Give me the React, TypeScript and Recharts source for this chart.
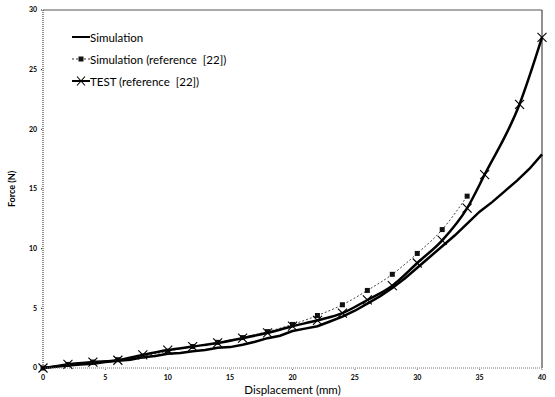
import React from 'react'
import { LineChart, Line, XAxis, YAxis, ReferenceLine } from 'recharts'

// Simulation (this work) – 1 mm steps, slightly noisy curve
const simDisp = [0, 1, 2, 3, 4, 5, 6, 7, 8, 9, 10, 11, 12, 13, 14, 15, 16, 17, 18, 19, 20, 21, 22, 23, 24, 25, 26, 27, 28, 29, 30, 31, 32, 33, 34, 35, 36, 37, 38, 39, 40]
const simForce = [0, 0.1, 0.2, 0.3, 0.35, 0.5, 0.6, 0.7, 0.9, 1.0, 1.2, 1.25, 1.4, 1.5, 1.7, 1.75, 1.95, 2.2, 2.5, 2.7, 3.1, 3.3, 3.5, 3.9, 4.3, 4.8, 5.4, 6.0, 6.7, 7.5, 8.4, 9.3, 10.2, 11.1, 12.1, 13.1, 13.9, 14.8, 15.7, 16.7, 17.9]

// Simulation (reference [22])
const refDisp = [0, 2, 4, 6, 8, 10, 12, 14, 16, 18, 20, 22, 24, 26, 28, 30, 32, 34]
const refForce = [0, 0.3, 0.5, 0.7, 1.0, 1.4, 1.8, 2.15, 2.55, 3.05, 3.65, 4.4, 5.3, 6.5, 7.85, 9.6, 11.6, 14.4]

// TEST (reference [22])
const testDisp = [0, 2, 4, 6, 8, 10, 12, 14, 16, 18, 20, 22, 24, 26, 28, 30, 32, 34, 35.4, 38.2, 40]
const testForce = [0, 0.3, 0.5, 0.65, 1.1, 1.5, 1.8, 2.1, 2.5, 2.95, 3.5, 4.0, 4.6, 5.7, 6.9, 8.8, 10.7, 13.4, 16.2, 22.1, 27.7]

const xTicks = [0, 5, 10, 15, 20, 25, 30, 35, 40]
const yTicks = [0, 5, 10, 15, 20, 25, 30]

const toRows = (xs: number[], ys: number[]) => xs.map((x, i) => ({ x, y: ys[i] }))

const simData = toRows(simDisp, simForce)
const refData = toRows(refDisp, refForce)
const testData = toRows(testDisp, testForce)

const FONT = 'Lato, "Open Sans", sans-serif'

const CrossDot = (props: any) => {
  const { cx, cy } = props
  if (cx == null || cy == null) return null
  const s = 4.5
  return (
    <g>
      <line x1={cx - s} y1={cy - s} x2={cx + s} y2={cy + s} stroke="#000" strokeWidth={1.1} />
      <line x1={cx - s} y1={cy + s} x2={cx + s} y2={cy - s} stroke="#000" strokeWidth={1.1} />
    </g>
  )
}

const SquareDot = (props: any) => {
  const { cx, cy } = props
  if (cx == null || cy == null) return null
  return <rect x={cx - 2.5} y={cy - 2.5} width={5} height={5} fill="#111" />
}

const LegendBox = () => {
  const row = { display: 'flex', alignItems: 'center', height: 22, fontSize: 11.5, color: '#000', fontFamily: FONT }
  return (
    <div style={{ position: 'absolute', top: 26, left: 72 }}>
      <div style={row}>
        <svg width={18} height={10}><line x1={0} y1={5} x2={18} y2={5} stroke="#000" strokeWidth={2} /></svg>
        <span>Simulation</span>
      </div>
      <div style={row}>
        <svg width={18} height={10}>
          <line x1={0} y1={5} x2={18} y2={5} stroke="#333" strokeWidth={1} strokeDasharray="2 2" />
          <rect x={6.5} y={2.5} width={5} height={5} fill="#111" />
        </svg>
        <span>Simulation (reference&nbsp; [22])</span>
      </div>
      <div style={row}>
        <svg width={18} height={10}>
          <line x1={0} y1={5} x2={18} y2={5} stroke="#000" strokeWidth={2} />
          <line x1={5} y1={0.5} x2={13} y2={9.5} stroke="#000" strokeWidth={1.1} />
          <line x1={5} y1={9.5} x2={13} y2={0.5} stroke="#000" strokeWidth={1.1} />
        </svg>
        <span>TEST (reference&nbsp; [22])</span>
      </div>
    </div>
  )
}

export default function App() {
  const tick = { fontSize: 7, fill: '#000', fontFamily: FONT, fontWeight: 700 }
  return (
    <div style={{ position: 'absolute', top: 0, left: 0, width: 555, height: 397, background: '#fff' }}>
      <LineChart width={555} height={397} margin={{ top: 10, right: 13, left: 0, bottom: 0 }}>
        <XAxis
          type="number"
          dataKey="x"
          domain={[0, 40]}
          ticks={xTicks}
          height={29}
          tick={tick}
          tickSize={2}
          tickMargin={5}
          stroke="#777"
          strokeDasharray="1 1"
          allowDuplicatedCategory={false}
          label={{ value: 'Displacement (mm)', position: 'insideBottom', offset: 3, style: { fontSize: 11.5, fill: '#000', fontFamily: FONT } }}
        />
        <YAxis
          type="number"
          dataKey="y"
          domain={[0, 30]}
          ticks={yTicks}
          width={43}
          tick={tick}
          tickSize={2}
          tickMargin={4}
          stroke="#222"
          strokeDasharray="1 1"
          label={{ value: 'Force (N)', angle: -90, position: 'insideLeft', offset: 12, style: { fontSize: 9, fill: '#000', fontFamily: FONT, fontWeight: 700, textAnchor: 'middle' } }}
        />
        <ReferenceLine y={30} stroke="#555" strokeWidth={1} />
        <ReferenceLine x={40} stroke="#222" strokeWidth={1} />
        <Line
          data={refData}
          dataKey="y"
          type="monotone"
          stroke="#444"
          strokeWidth={1}
          strokeDasharray="2 2"
          dot={<SquareDot />}
          isAnimationActive={false}
        />
        <Line
          data={simData}
          dataKey="y"
          type="linear"
          stroke="#000"
          strokeWidth={2.5}
          dot={false}
          isAnimationActive={false}
        />
        <Line
          data={testData}
          dataKey="y"
          type="monotone"
          stroke="#000"
          strokeWidth={2.5}
          dot={<CrossDot />}
          isAnimationActive={false}
        />
      </LineChart>
      <LegendBox />
    </div>
  )
}
